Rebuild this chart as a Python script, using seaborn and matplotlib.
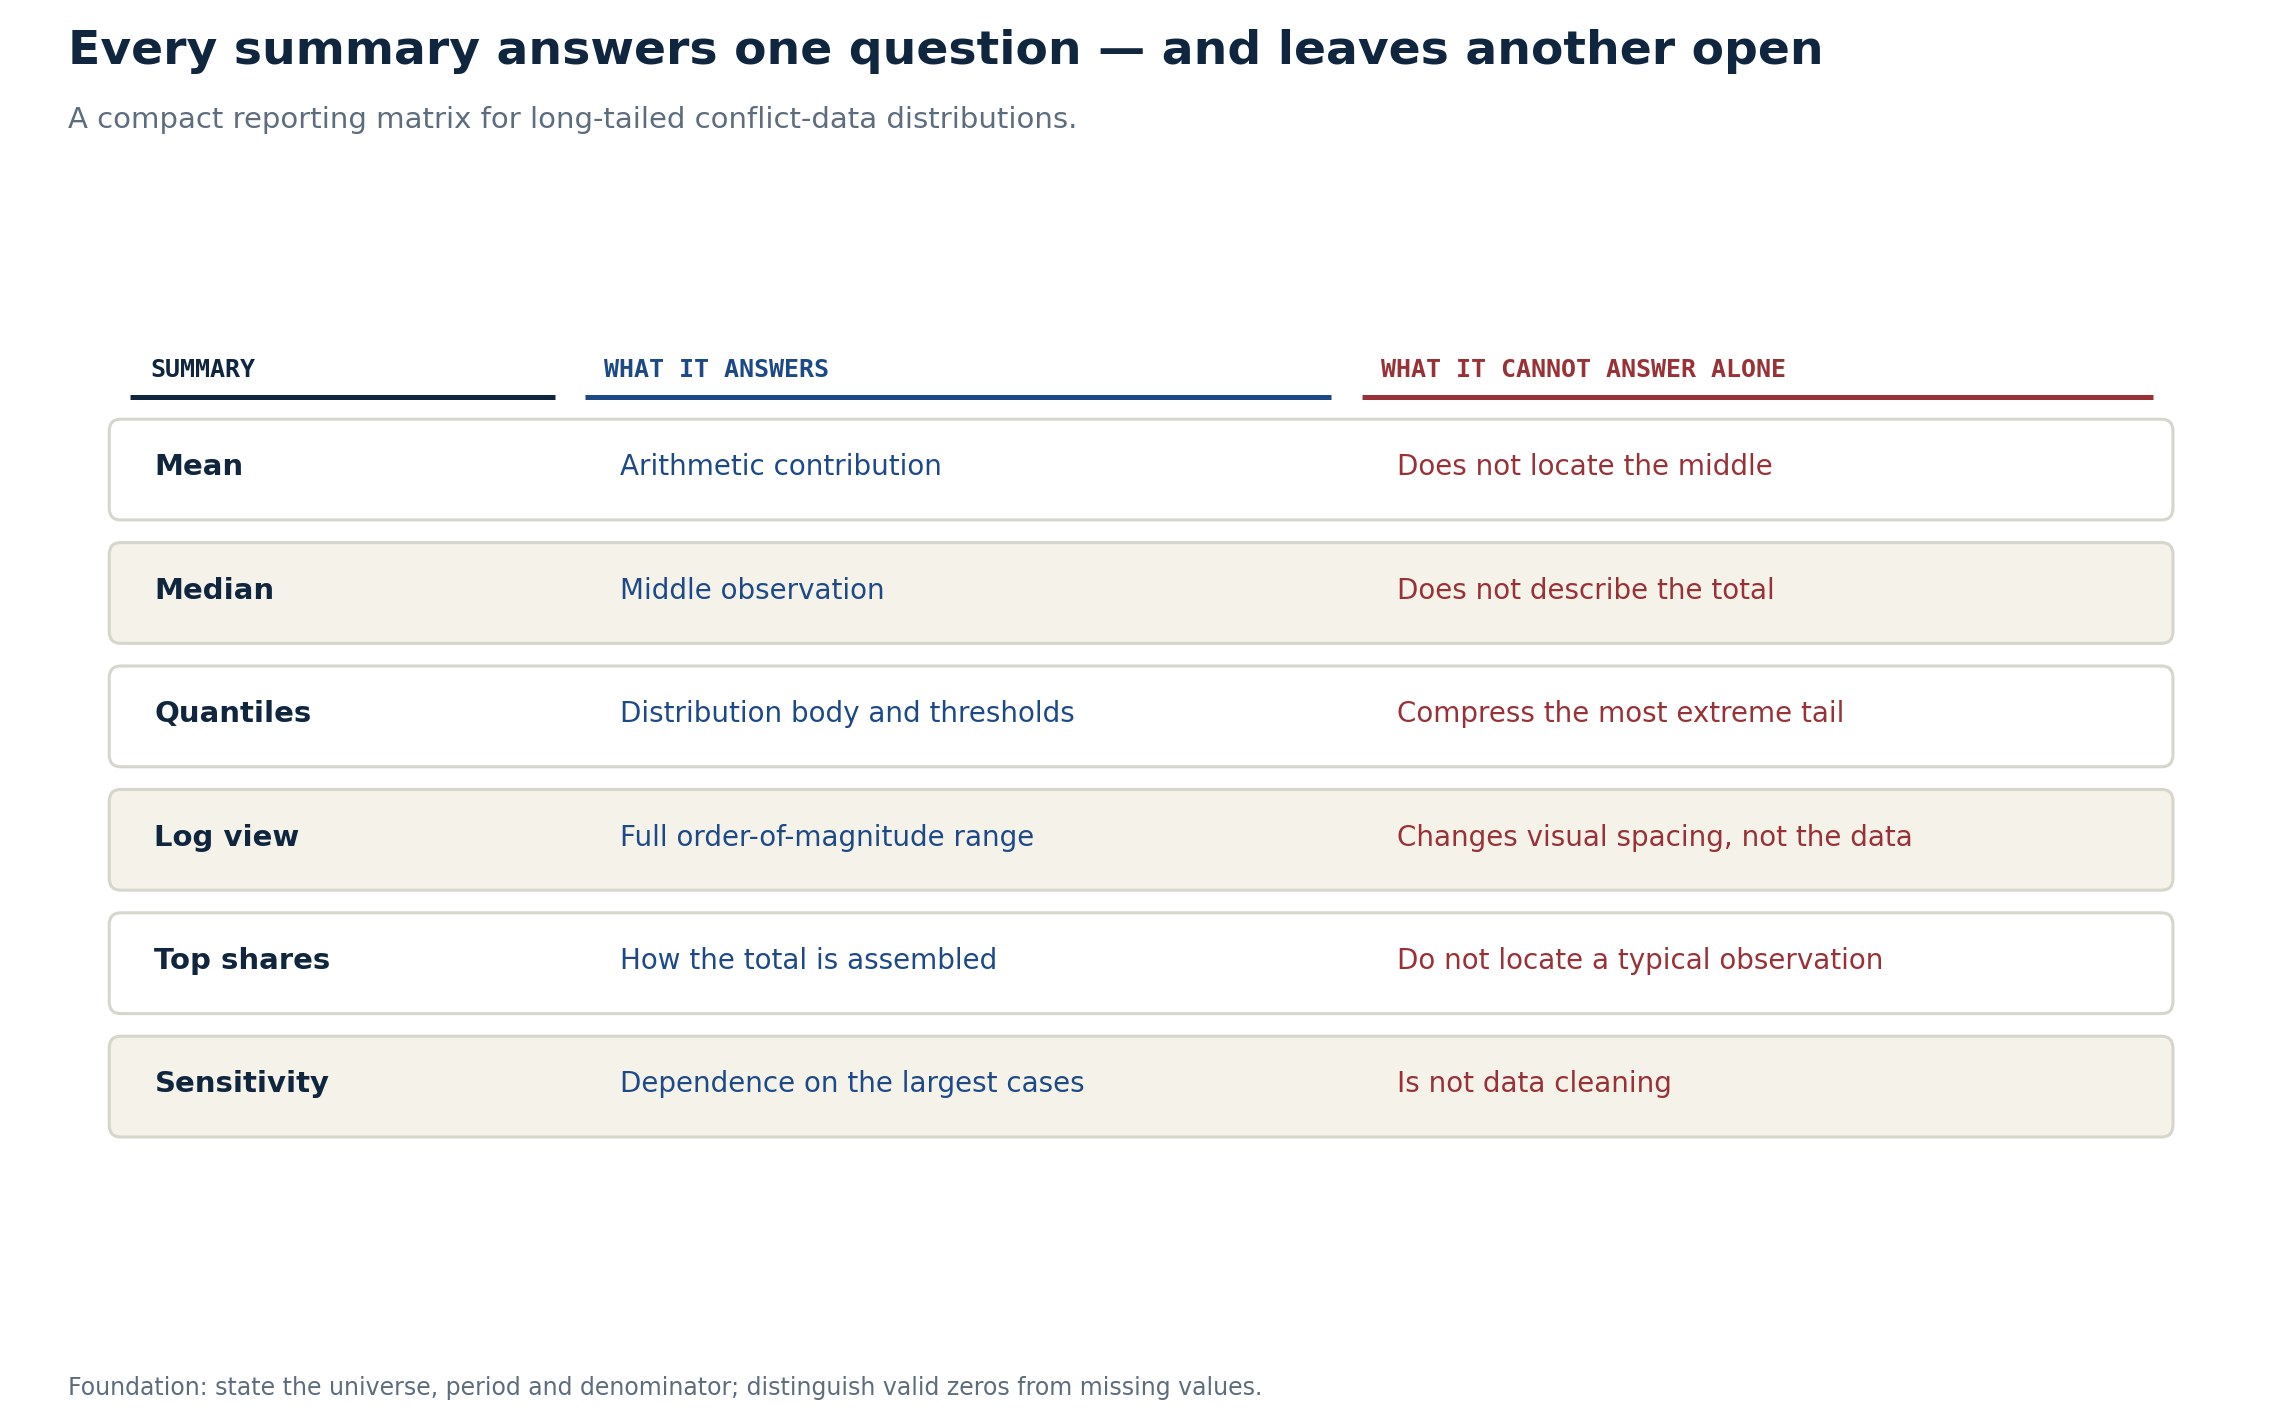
import matplotlib
matplotlib.use("Agg")
import matplotlib.pyplot as plt
from matplotlib.patches import FancyBboxPatch
import seaborn as sns

sns.set_theme(style="white")
plt.rcParams['font.family'] = ['DejaVu Sans']

title = "Every summary answers one question — and leaves another open"
subtitle = "A compact reporting matrix for long-tailed conflict-data distributions."
footer = "Foundation: state the universe, period and denominator; distinguish valid zeros from missing values."
headers = ["SUMMARY", "WHAT IT ANSWERS", "WHAT IT CANNOT ANSWER ALONE"]
summaries = ["Mean", "Median", "Quantiles", "Log view", "Top shares", "Sensitivity"]
answers = ["Arithmetic contribution", "Middle observation", "Distribution body and thresholds",
           "Full order-of-magnitude range", "How the total is assembled", "Dependence on the largest cases"]
limits = ["Does not locate the middle", "Does not describe the total", "Compress the most extreme tail",
          "Changes visual spacing, not the data", "Do not locate a typical observation", "Is not data cleaning"]

NAVY, BLUE, RED = "#10263f", "#1d4a87", "#983236"
fig = plt.figure(figsize=(11.36, 7.12), dpi=200)
ax = fig.add_axes([0, 0, 1, 1])
ax.set_xlim(0, 1560); ax.set_ylim(975, 0); ax.axis("off")

fig.text(0.030, 0.964, title, fontsize=17, fontweight="bold", color=NAVY, va="center")
fig.text(0.030, 0.916, subtitle, fontsize=10.5, color="#5d6d7e", va="center")
fig.text(0.030, 0.025, footer, fontsize=8.5, color="#5d6d7e", va="center")

hcols = [NAVY, BLUE, RED]
hx = [103, 415, 948]
lines = [(89, 381), (402, 914), (935, 1478)]
for h, c, x, (l0, l1) in zip(headers, hcols, hx, lines):
    ax.text(x, 253, h, fontsize=9, fontweight="bold", family="DejaVu Sans Mono", color=c, va="center")
    ax.plot([l0, l1], [272, 272], color=c, lw=1.8, solid_capstyle="butt")

for i, (s, a, l) in enumerate(zip(summaries, answers, limits)):
    top = 287 + i * 84.5
    fc = "white" if i % 2 == 0 else "#f5f2ea"
    ax.add_patch(FancyBboxPatch((75, top), 1417, 69, boxstyle="round,pad=0,rounding_size=8",
                                fc=fc, ec="#d6d6cc", lw=1.1))
    yc = top + 33
    ax.text(106, yc, s, fontsize=10.5, fontweight="bold", color=NAVY, va="center")
    ax.text(426, yc, a, fontsize=10, color=BLUE, va="center")
    ax.text(959, yc, l, fontsize=10, color=RED, va="center")

fig.savefig("out.png", dpi=200, facecolor="white")
